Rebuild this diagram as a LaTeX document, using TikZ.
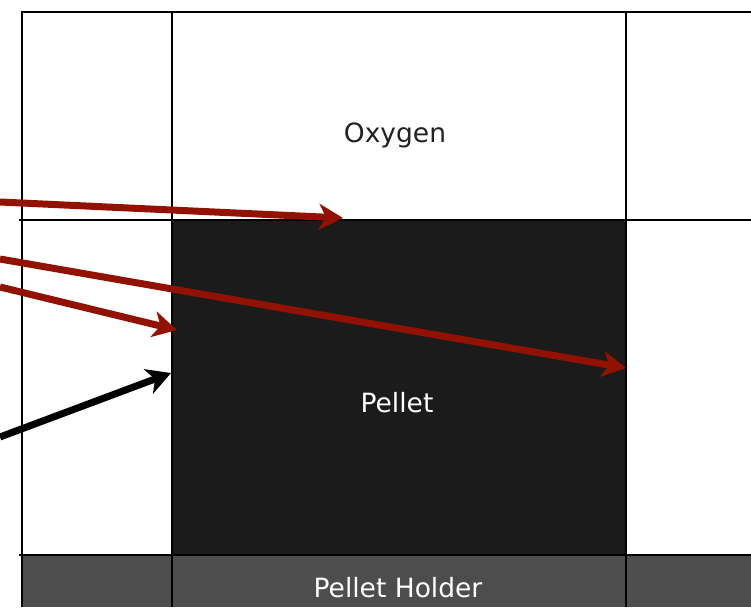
\documentclass[tikz,border=0pt]{standalone}
\usepackage{fontspec}
\setmainfont{DejaVu Sans}
\usetikzlibrary{arrows.meta}
\definecolor{arrowred}{RGB}{145,18,0}
\definecolor{pelletfill}{HTML}{1B1B1B}
\definecolor{holderfill}{HTML}{4D4D4D}
\definecolor{textdark}{HTML}{222222}
\tikzset{
  gridline/.style={line width=2.4pt, draw=black},
  label/.style={font=\fontsize{26.5}{32}\selectfont},
  redarrow/.style={line width=7pt, draw=arrowred, -{Stealth[length=24pt,width=26pt,inset=7pt]}},
  blackarrow/.style={line width=7pt, draw=black, -{Stealth[length=24pt,width=26pt,inset=7pt]}},
}
\begin{document}
\begin{tikzpicture}[x=1pt,y=-1pt]
\useasboundingbox (0,0) rectangle (751,607);
\clip (0,0) rectangle (751,607);
\fill[white] (0,0) rectangle (751,607);
% holder band
\node[fill=holderfill, inner sep=0pt, minimum width=729pt, minimum height=52pt, anchor=north west] (holder) at (22,555) {};
% pellet
\node[fill=pelletfill, inner sep=0pt, minimum width=454pt, minimum height=335pt, anchor=north west] (pellet) at (172,220) {};
% oxygen cell
\node[inner sep=0pt, minimum width=454pt, minimum height=208pt, anchor=north west] (oxygen) at (172,12) {};
% grid
\draw[gridline] (21,12) -- (751,12);
\draw[gridline] (19,220) -- (751,220);
\draw[gridline] (19,555) -- (751,555);
\draw[gridline] (22,11) -- (22,607);
\draw[gridline] (172,11) -- (172,607);
\draw[gridline] (626,11) -- (626,607);
% labels
\node[label, text=textdark] at (395,135) {Oxygen};
\node[label, text=white] at (397,403) {Pellet};
\node[label, text=white] at (398,588) {Pellet Holder};
% arrow start points
\coordinate (s1) at (0,202);
\coordinate (s2) at (0,259);
\coordinate (s3) at (0,287);
\coordinate (s4) at (0,437);
\coordinate (t1) at (343,218);
\coordinate (t2) at (626,368);
\coordinate (t3) at (177,330);
\coordinate (t4) at (171,373);
\draw[redarrow] (s1) -- (t1);
\draw[redarrow] (s2) -- (t2);
\draw[redarrow] (s3) -- (t3);
\draw[blackarrow] (s4) -- (t4);
\end{tikzpicture}
\end{document}
